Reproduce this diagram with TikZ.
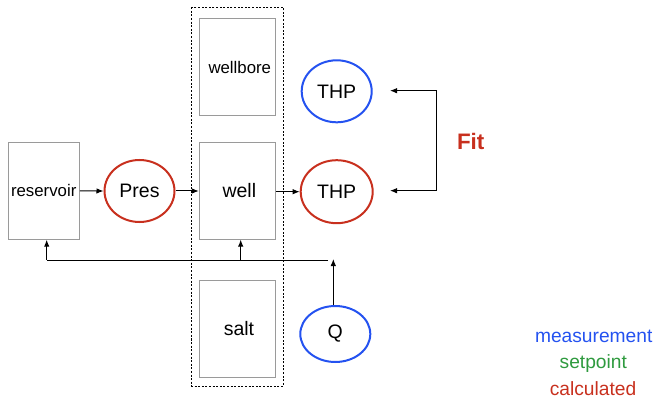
\documentclass[tikz,border=0pt]{standalone}
\usepackage{fontspec}
\setmainfont{Liberation Sans}
\usetikzlibrary{shapes.geometric,arrows.meta,calc}
\definecolor{mblue}{HTML}{2452F0}
\definecolor{mred}{HTML}{C8301E}
\definecolor{mgreen}{HTML}{2E9A3E}
\definecolor{boxgray}{HTML}{9A9A9A}
\tikzset{
  blk/.style={draw=boxgray, line width=0.9pt, minimum width=76pt, minimum height=97pt, inner sep=0pt, font=\fontsize{19.5}{20}\selectfont},
  ell/.style={ellipse, line width=2pt, minimum width=70pt, minimum height=62pt, inner sep=0pt, font=\fontsize{19.5}{20}\selectfont},
  meas/.style={ell, draw=mblue},
  calc/.style={ell, draw=mred},
  conn/.style={line width=1pt, -{Latex[length=7pt,width=5.5pt]}},
  plain/.style={line width=1pt},
  leg/.style={font=\fontsize{19.2}{20}\selectfont, inner sep=0pt}
}
\begin{document}
\begin{tikzpicture}[x=1pt,y=-1pt]
\useasboundingbox (0,0) rectangle (654,401);
% dashed group
\draw[line width=0.9pt, dash pattern=on 2pt off 1.6pt] (191.7,7.3) rectangle (283.3,386);
% boxes
\node[blk] (wellbore) at (237.3,67) {\hspace{5pt}\fontsize{16.8}{18}\selectfont wellbore};
\node[blk] (well) at (237.3,190.7) {\hspace{4pt}well};
\node[blk] (salt) at (237.5,328.8) {\hspace{3pt}salt};
\node[blk, minimum width=71.3pt] (res) at (43.7,190.8) {\fontsize{16.8}{18}\selectfont reservoir};
% ellipses
\node[calc] (pres) at (139.5,191) {Pres};
\node[meas] (thpm) at (336.7,91.3) {THP};
\node[calc, minimum width=72pt, minimum height=63pt] (thpc) at (336.7,191.7) {THP};
\node[meas, minimum height=56pt] (q) at (335.3,334) {Q};
% flow arrows
\draw[conn] (res.east) -- (pres.west);
\draw[conn] (pres.east) -- (well.west |- pres.east);
\draw[conn] (well.east |- thpc.west) -- (thpc.west);
% Q feedback
\coordinate (qj) at (333.3,260);
\coordinate (rj) at (46.7,260);
\coordinate (wj) at (240.7,260);
\draw[conn] (q.north -| qj) -- ($(qj)+(0,-1)$);
\draw[plain] (328,260) -- (rj);
\draw[conn] (rj) -- (rj |- res.south);
\draw[conn] (wj) -- (wj |- well.south);
% Fit bracket
\coordinate (ft) at (436.7,90.7);
\coordinate (fb) at (436.7,190.7);
\coordinate (at1) at (390,90.7);
\coordinate (at2) at (390,190.7);
\draw[plain] (ft) -- (fb);
\draw[conn] (ft) -- (at1);
\draw[conn] (fb) -- (at2);
\node[text=mred, font=\fontsize{22.4}{24}\bfseries\selectfont] (fit) at (470.7,141) {Fit};
% legend
\node[leg, text=mblue] (lm) at (593.7,336.7) {measurement};
\node[leg, text=mgreen] (ls) at (593.3,363.3) {setpoint};
\node[leg, text=mred] (lc) at (593,388.3) {calculated};
\end{tikzpicture}
\end{document}
